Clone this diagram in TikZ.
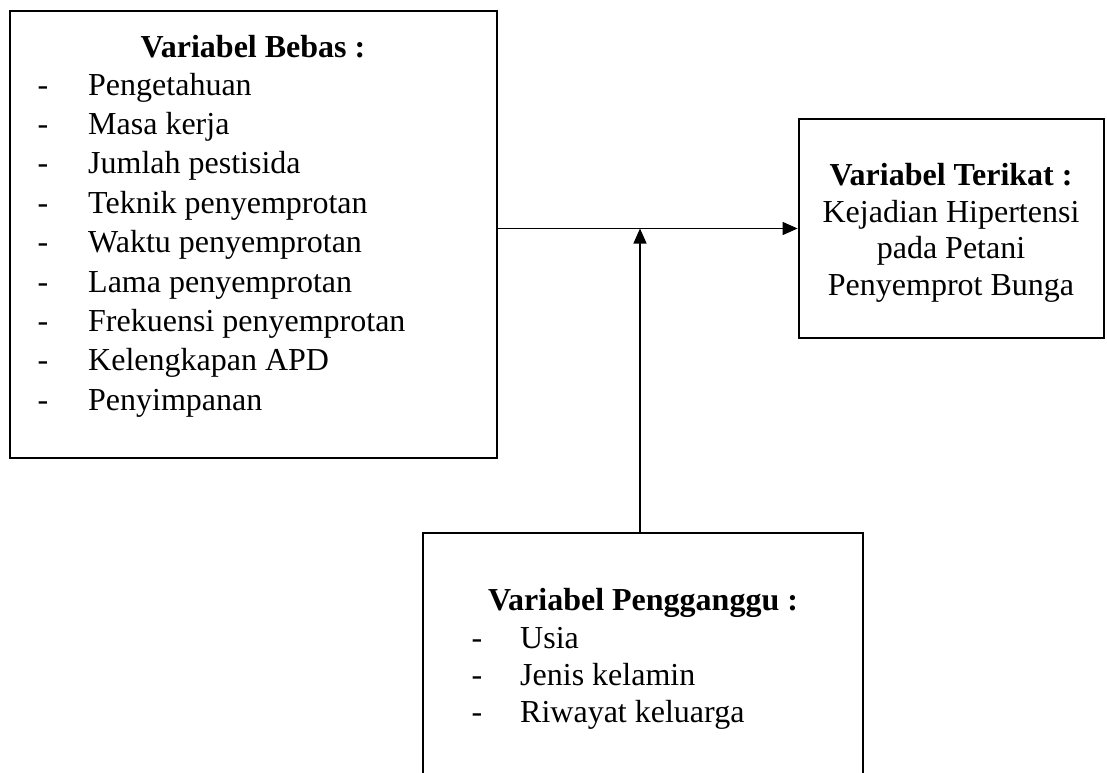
\documentclass[tikz,border=0pt]{standalone}
\usepackage{fontspec}
\setmainfont{Liberation Serif}
\usetikzlibrary{arrows.meta}
\begin{document}
\begin{tikzpicture}[x=1pt,y=-1pt,
  box/.style={draw=black, line width=2.8pt, rectangle, inner sep=0pt},
  txt/.style={font=\fontsize{32}{36}\selectfont, inner sep=0pt},
  ttl/.style={txt, font=\fontsize{32}{36}\selectfont\bfseries, anchor=base},
  itm/.style={txt, anchor=base west},
  dsh/.style={txt, anchor=base},
  conn/.style={line width=1.4pt, -{Triangle[length=15pt,width=13pt]}}
]
\useasboundingbox (0,0) rectangle (1107,772);
\clip (0,0) rectangle (1107,772);
% boxes
\node[box, minimum width=487pt, minimum height=447pt] (bebas) at (253.5,234.5) {};
\node[box, minimum width=305pt, minimum height=219pt] (terikat) at (951.5,228.5) {};
\node[box, minimum width=440pt, minimum height=267pt] (pengganggu) at (643,666.5) {};
% left box text
\node[ttl] (tb) at (253,57) {Variabel Bebas :};
\foreach \t [count=\i] in {Pengetahuan, Masa kerja, Jumlah pestisida, Teknik penyemprotan, Waktu penyemprotan, Lama penyemprotan, Frekuensi penyemprotan, Kelengkapan APD, Penyimpanan}{
  \node[dsh] (bd\i) at (43,{95+39.4*(\i-1)}) {-};
  \node[itm] (bi\i) at (88,{95+39.4*(\i-1)}) {\t};
}
% right box text
\node[ttl] (tt) at (951,185) {Variabel Terikat :};
\node[txt, anchor=base] (tt1) at (951,222) {Kejadian Hipertensi};
\node[txt, anchor=base] (tt2) at (951,258) {pada Petani};
\node[txt, anchor=base] (tt3) at (951,295) {Penyemprot Bunga};
% bottom box text
\node[ttl] (tp) at (643,610) {Variabel Pengganggu :};
\foreach \t [count=\i] in {Usia, Jenis kelamin, Riwayat keluarga}{
  \node[dsh] (pd\i) at (477,{648+37.2*(\i-1)}) {-};
  \node[itm] (pi\i) at (520,{648+37.2*(\i-1)}) {\t};
}
% connectors
\coordinate (ps) at ([xshift=-3pt]pengganggu.north);
\coordinate (j) at (ps |- terikat.west);
\draw[conn] (bebas.east |- terikat.west) -- (terikat.west);
\draw[conn] (ps) -- (j);
\end{tikzpicture}
\end{document}
